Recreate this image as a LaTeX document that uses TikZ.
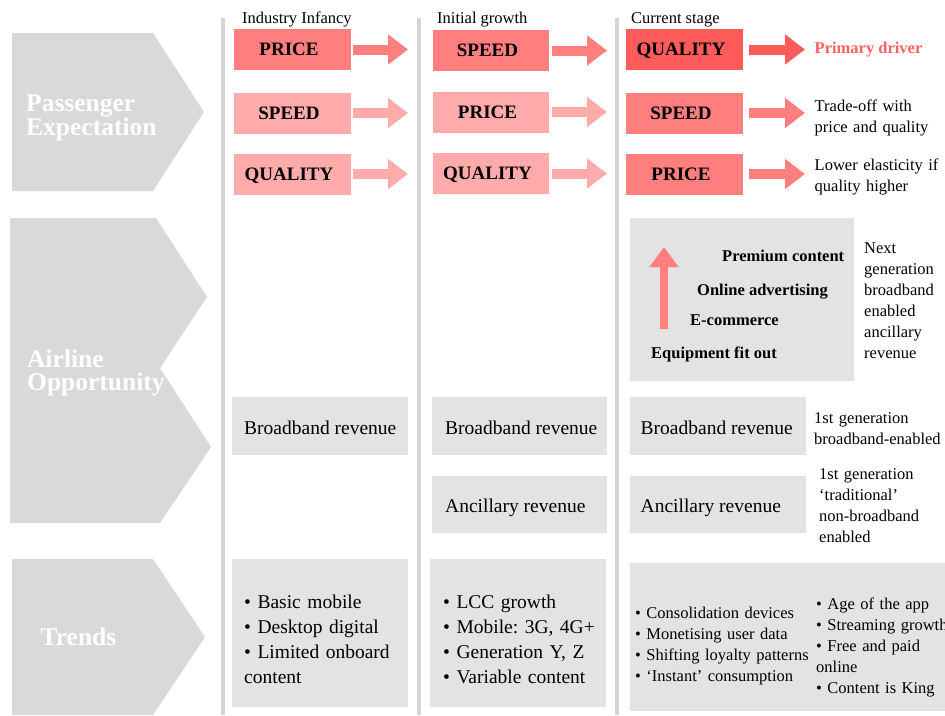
\documentclass[tikz,border=0pt]{standalone}
\usepackage{fontspec}
\setmainfont{Liberation Serif}
\frenchspacing
\usetikzlibrary{arrows.meta}
\definecolor{rdark}{HTML}{FF5B5B}
\definecolor{rmid}{HTML}{FF7F7F}
\definecolor{rlight}{HTML}{FFABAB}
\definecolor{chev}{HTML}{D9D9D9}
\definecolor{boxg}{HTML}{E3E3E3}
\definecolor{vline}{HTML}{D4D4D4}
\definecolor{ptext}{HTML}{FF6161}
\tikzset{
  rbox/.style={rectangle, inner sep=0pt, minimum width=116.5pt, minimum height=41pt,
    font=\fontsize{19}{22}\selectfont\bfseries, text height=12.8pt, text depth=0pt,
    execute at end node={\hspace*{7pt}}},
  gbox/.style={rectangle, fill=boxg, inner sep=0pt},
  tx/.style={inner sep=0pt, anchor=base west},
  fbig/.style={font=\fontsize{19.5}{25}\selectfont},
  fsmall/.style={font=\fontsize{16.5}{21}\selectfont},
  fsmallb/.style={font=\fontsize{16.5}{21}\selectfont\bfseries},
  multi/.style={align=left, text width=#1},
  blockarr/.style={line width=10pt, -{Triangle[length=20pt,width=29pt]}},
  chevlbl/.style={inner sep=0pt, anchor=base west, text=white,
    font=\fontsize{25.5}{22.5}\selectfont\bfseries, align=left, text width=200pt},
  vl/.style={draw=vline, line width=4pt},
}
\begin{document}
\begin{tikzpicture}[x=1pt,y=-1pt]
\useasboundingbox (0,0) rectangle (945,715);

% chevrons
\fill[chev] (12,33) -- (153,33) -- (204,112) -- (153,191) -- (12,191) -- cycle;
\fill[chev] (10,218) -- (156,218) -- (207,297) -- (160,368) -- (211,447) -- (160,523) -- (10,523) -- cycle;
\fill[chev] (12,559) -- (153,559) -- (205,637) -- (153,715) -- (12,715) -- cycle;
\node[chevlbl] (pe) at (26,111.5) {Passenger\\Expectation};
\node[chevlbl] (ao) at (27,367.5) {Airline\\Opportunity};
\node[chevlbl] (trl) at (40.5,645) {Trends};

% column separators
\draw[vl] (222.5,18) -- (222.5,715);
\draw[vl] (419,18) -- (419,715);
\draw[vl] (617,18) -- (617,715);

% headers
\node[tx, fsmall] (h1) at (242,23.5) {Industry Infancy};
\node[tx, fsmall] (h2) at (437,23.5) {Initial growth};
\node[tx, fsmall] (h3) at (631,23.5) {Current stage};

% red boxes
\node[rbox, fill=rmid]   (p11) at (292.5,49.5) {PRICE};
\node[rbox, fill=rmid]   (p12) at (491,50.5) {SPEED};
\node[rbox, fill=rdark]  (p13) at (684.5,49.5) {QUALITY};
\node[rbox, fill=rlight] (p21) at (292.5,113) {SPEED};
\node[rbox, fill=rlight] (p22) at (491,112) {PRICE};
\node[rbox, fill=rmid]   (p23) at (684.5,113) {SPEED};
\node[rbox, fill=rlight] (p31) at (292.5,174) {QUALITY};
\node[rbox, fill=rlight] (p32) at (491,173.5) {QUALITY};
\node[rbox, fill=rmid]   (p33) at (684.5,174) {PRICE};

% arrow ends
\coordinate (e11) at (408,49.5);
\coordinate (e12) at (607,50.5);
\coordinate (e13) at (805,49.5);
\coordinate (e21) at (408,113);
\coordinate (e22) at (607,112);
\coordinate (e23) at (805,113);
\coordinate (e31) at (408,174);
\coordinate (e32) at (607,173.5);
\coordinate (e33) at (805,174);

\draw[blockarr, draw=rmid]   ([xshift=2.5pt]p11.east) -- (e11);
\draw[blockarr, draw=rmid]   ([xshift=2.5pt]p12.east) -- (e12);
\draw[blockarr, draw=rdark]  ([xshift=6.5pt]p13.east) -- (e13);
\draw[blockarr, draw=rlight] ([xshift=2.5pt]p21.east) -- (e21);
\draw[blockarr, draw=rlight] ([xshift=2.5pt]p22.east) -- (e22);
\draw[blockarr, draw=rmid]   ([xshift=6.5pt]p23.east) -- (e23);
\draw[blockarr, draw=rlight] ([xshift=2.5pt]p31.east) -- (e31);
\draw[blockarr, draw=rlight] ([xshift=2.5pt]p32.east) -- (e32);
\draw[blockarr, draw=rmid]   ([xshift=6.5pt]p33.east) -- (e33);

% right-hand notes for passenger expectation
\node[tx, fsmallb, text=ptext] (pd) at (814.5,53.5) {Primary driver};
\node[tx, fsmall, multi=130pt] (to) at (814.5,111.5) {Trade-off with\\price and quality};
\node[tx, fsmall, multi=130pt] (le) at (814.5,170.5) {Lower elasticity if\\quality higher};

% airline opportunity: next generation box
\node[gbox, minimum width=224pt, minimum height=163pt] (ab3) at (742,299.5) {};
\coordinate (upS) at (664,329);
\coordinate (upE) at (664,247);
\draw[line width=8pt, draw=rmid, -{Triangle[length=20pt,width=28pt]}] (upS) -- (upE);
\node[tx, fsmallb] (pc) at (722,261.5) {Premium content};
\node[tx, fsmallb] (oa) at (697,295) {Online advertising};
\node[tx, fsmallb] (ec) at (690,325) {E-commerce};
\node[tx, fsmallb] (ef) at (651,358.3) {Equipment fit out};
\node[tx, fsmall, multi=80pt] (ng) at (864,253.5) {Next\\generation\\broadband\\enabled\\ancillary\\revenue};

% revenue boxes
\node[gbox, minimum width=176pt, minimum height=58pt] (bb1) at (320,426) {};
\node[gbox, minimum width=175pt, minimum height=58pt] (bb2) at (519.5,426) {};
\node[gbox, minimum width=176pt, minimum height=58pt] (bb3) at (718,426) {};
\node[gbox, minimum width=175pt, minimum height=57pt] (an2) at (519.5,504.5) {};
\node[gbox, minimum width=176pt, minimum height=57pt] (an3) at (718,504.5) {};
\node[tx, fbig] (bb1t) at (244,434) {Broadband revenue};
\node[tx, fbig] (bb2t) at (445,434) {Broadband revenue};
\node[tx, fbig] (bb3t) at (640.5,434) {Broadband revenue};
\node[tx, fbig] (an2t) at (445,512.5) {Ancillary revenue};
\node[tx, fbig] (an3t) at (640.5,512.5) {Ancillary revenue};
\node[tx, fsmall, multi=140pt] (g1) at (814,423) {1st generation\\broadband-enabled};
\node[tx, fsmall, multi=140pt] (g2) at (819,479.5) {1st generation\\‘traditional’\\non-broadband\\enabled};

% trends boxes
\node[gbox, minimum width=176pt, minimum height=148pt] (tr1) at (320,633) {};
\node[gbox, minimum width=176pt, minimum height=148pt] (tr2) at (518,633) {};
\node[gbox, minimum width=320pt, minimum height=148pt] (tr3) at (790,637) {};
\node[tx, fbig, multi=170pt] (t1) at (244,608.5) {• Basic mobile\\• Desktop digital\\• Limited onboard\\content};
\node[tx, fbig, multi=170pt] (t2) at (443,608.5) {• LCC growth\\• Mobile: 3G, 4G+\\• Generation Y, Z\\• Variable content};
\node[tx, fsmall, multi=180pt] (t3) at (635,618.5) {• Consolidation devices\\• Monetising user data\\• Shifting loyalty patterns\\• ‘Instant’ consumption};
\node[tx, fsmall, multi=180pt] (t4) at (816,609.3) {• Age of the app\\• Streaming growth\\• Free and paid\\online\\• Content is King};
\end{tikzpicture}
\end{document}
